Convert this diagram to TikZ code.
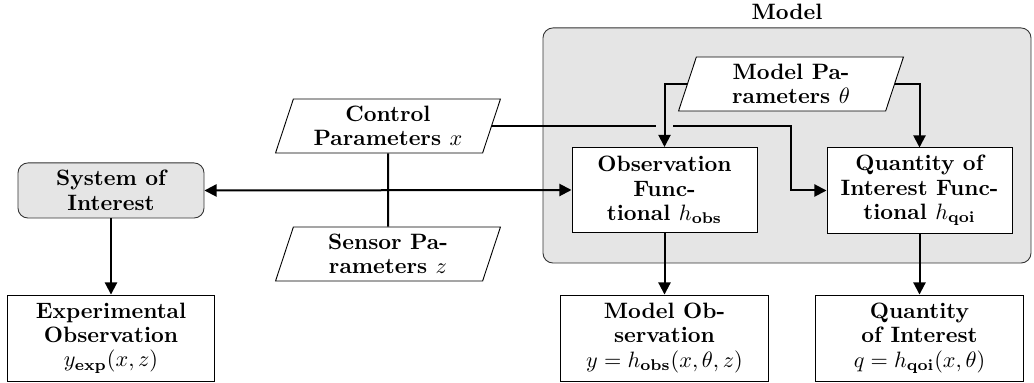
\documentclass[tikz,border=0pt]{standalone}
\usetikzlibrary{shapes.geometric,arrows.meta}
\definecolor{modelgray}{gray}{0.9}

\begin{document}
\begin{tikzpicture}[
  x=0.45pt, y=-0.45pt,
  >={Triangle[length=5.5pt,width=5.5pt]},
  every node/.style={font=\bfseries\fontsize{10}{11}\selectfont, align=center},
  box/.style={draw, thin, fill=white, minimum width=93.4pt, minimum height=38.7pt, inner sep=2pt},
  fnbox/.style={box, minimum width=83.3pt, minimum height=38.3pt},
  sysbox/.style={draw=black!80, thin, fill=modelgray, rounded corners=4.5pt,
    minimum width=83.7pt, minimum height=24.8pt},
  modelbox/.style={draw=black!80, thin, fill=modelgray, rounded corners=4.5pt,
    minimum width=219.6pt, minimum height=105.8pt},
  param/.style={draw, thin, fill=white, shape=trapezium,
    trapezium left angle=70, trapezium right angle=110, trapezium stretches body,
    minimum width=101.2pt, minimum height=24.3pt, inner sep=2pt},
  link/.style={line width=0.9pt}]
\useasboundingbox (0,0) rectangle (1034,383);

\node[modelbox, label={above:Model}] (model) at (787,145.5) {};

\node[sysbox] (sys) at (111,190.5) {System of\\Interest};
\node[box] (exp) at (111,338) {Experimental\\Observation\\$y_{\mathbf{exp}}(x,z)$};

\node[param] (ctrl) at (388,126) {Control\\Parameters $x$};
\node[param] (sens) at (388,254) {Sensor Pa-\\rameters $z$};
\node[param] (mp) at (791,84) {Model Pa-\\rameters $\theta$};

\node[fnbox] (obsfn) at (664.5,190) {Observation\\Func-\\tional $h_{\mathbf{obs}}$};
\node[fnbox] (qoifn) at (919.5,190.5) {Quantity of\\Interest Func-\\tional $h_{\mathbf{qoi}}$};

\node[box] (mobs) at (664.5,338) {Model Ob-\\servation\\$y = h_{\mathbf{obs}}(x,\theta,z)$};
\node[box] (qoi) at (919.5,338) {Quantity\\of Interest\\$q = h_{\mathbf{qoi}}(x,\theta)$};

% connectors
\draw[link] (ctrl.south) -- (sens.north);
\draw[link, <->] (sys.east) -- (obsfn.west);
\draw[link, ->] (sys.south) -- (exp.north);
\draw[link, ->] (obsfn.south) -- (mobs.north);
\draw[link, ->] (qoifn.south) -- (qoi.north);
\draw[link, ->] (mp.west) -| (obsfn.north);
\draw[link, ->] (mp.east) -| (qoifn.north);

% control line, broken where it crosses the theta arrow
\draw[link] (ctrl.east) -- ([xshift=-4pt]ctrl.east -| obsfn.north);
\draw[link, ->] ([xshift=4pt]ctrl.east -| obsfn.north) -- (ctrl.east -| mp.south) |- (qoifn.west);
\end{tikzpicture}
\end{document}
